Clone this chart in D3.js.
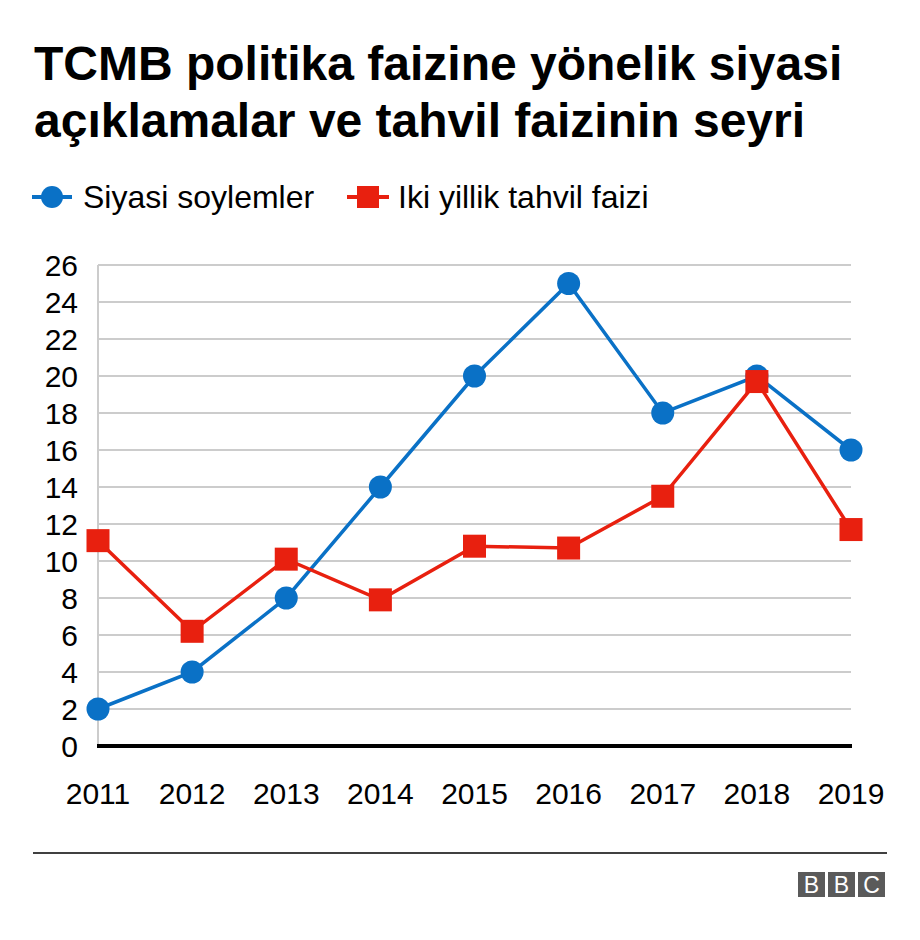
<!DOCTYPE html>
<html>
<head>
<meta charset="utf-8">
<script src="https://cdn.jsdelivr.net/npm/d3@7"></script>
<style>
  body { margin: 0; background: #fff; font-family: "Liberation Sans", Arial, sans-serif; }
</style>
</head>
<body>
<div id="chart"></div>
<script>
const years = [2011, 2012, 2013, 2014, 2015, 2016, 2017, 2018, 2019];
const siyasi = [2, 4, 8, 14, 20, 25, 18, 20, 16];
const tahvil = [11.1, 6.2, 10.1, 7.9, 10.8, 10.7, 13.5, 19.7, 11.7];
const yTicks = [0, 2, 4, 6, 8, 10, 12, 14, 16, 18, 20, 22, 24, 26];

const blue = '#0a71c6';
const red = '#e8200f';

const width = 920, height = 940;
const svg = d3.select('#chart').append('svg')
  .attr('width', width)
  .attr('height', height);

// title
svg.append('text')
  .attr('x', 34).attr('y', 80)
  .style('font-size', '48px').style('font-weight', 'bold')
  .text('TCMB politika faizine yönelik siyasi');
svg.append('text')
  .attr('x', 34).attr('y', 137)
  .style('font-size', '48px').style('font-weight', 'bold')
  .text('açıklamalar ve tahvil faizinin seyri');

// legend
const leg = svg.append('g').attr('transform', 'translate(0,197)');
leg.append('line').attr('x1', 32).attr('x2', 72).attr('stroke', blue).attr('stroke-width', 4);
leg.append('circle').attr('cx', 52).attr('r', 11).attr('fill', blue);
leg.append('text').attr('x', 83).attr('y', 11).style('font-size', '32px').text('Siyasi soylemler');
leg.append('line').attr('x1', 347).attr('x2', 389).attr('stroke', red).attr('stroke-width', 4);
leg.append('rect').attr('x', 357).attr('y', -11).attr('width', 22).attr('height', 22).attr('fill', red);
leg.append('text').attr('x', 398).attr('y', 11).style('font-size', '32px').text('Iki yillik tahvil faizi');

const x = d3.scalePoint().domain(years).range([98, 851]);
const y = d3.scaleLinear().domain([0, 26]).range([746, 265]);

// grid
svg.append('g')
  .selectAll('line')
  .data(yTicks.filter(d => d > 0))
  .enter().append('line')
    .attr('x1', 98).attr('x2', 851)
    .attr('y1', d => y(d)).attr('y2', d => y(d))
    .attr('stroke', '#cccccc').attr('stroke-width', 2);

svg.append('line')
  .attr('x1', 98).attr('x2', 98)
  .attr('y1', y(26)).attr('y2', y(0))
  .attr('stroke', '#cccccc').attr('stroke-width', 2);

// y axis labels
svg.append('g')
  .selectAll('text')
  .data(yTicks)
  .enter().append('text')
    .attr('x', 78).attr('y', d => y(d) + 11)
    .attr('text-anchor', 'end')
    .style('font-size', '30px')
    .text(d => d);

// x axis labels
svg.append('g')
  .selectAll('text')
  .data(years)
  .enter().append('text')
    .attr('x', d => x(d)).attr('y', 804)
    .attr('text-anchor', 'middle')
    .style('font-size', '30px')
    .text(d => d);

// baseline
svg.append('line')
  .attr('x1', 97).attr('x2', 852)
  .attr('y1', y(0)).attr('y2', y(0))
  .attr('stroke', '#000').attr('stroke-width', 4);

const line = d3.line().x(d => x(d[0])).y(d => y(d[1]));

// blue series
const bData = years.map((yr, i) => [yr, siyasi[i]]);
svg.append('path').datum(bData)
  .attr('d', line).attr('fill', 'none')
  .attr('stroke', blue).attr('stroke-width', 3.5);
svg.append('g').selectAll('circle')
  .data(bData).enter().append('circle')
    .attr('cx', d => x(d[0])).attr('cy', d => y(d[1]))
    .attr('r', 11.5).attr('fill', blue);

// red series
const rData = years.map((yr, i) => [yr, tahvil[i]]);
svg.append('path').datum(rData)
  .attr('d', line).attr('fill', 'none')
  .attr('stroke', red).attr('stroke-width', 3.5);
svg.append('g').selectAll('rect')
  .data(rData).enter().append('rect')
    .attr('x', d => x(d[0]) - 11.5).attr('y', d => y(d[1]) - 11.5)
    .attr('width', 23).attr('height', 23)
    .attr('fill', red);

// footer
svg.append('line')
  .attr('x1', 33).attr('x2', 887)
  .attr('y1', 853).attr('y2', 853)
  .attr('stroke', '#000').attr('stroke-width', 1.5);

const logo = svg.append('g').attr('transform', 'translate(798,872)');
['B', 'B', 'C'].forEach((ch, i) => {
  logo.append('rect')
    .attr('x', i * 30).attr('y', 0)
    .attr('width', 27).attr('height', 25)
    .attr('fill', '#5a5a5a');
  logo.append('text')
    .attr('x', i * 30 + 13.5).attr('y', 21)
    .attr('text-anchor', 'middle')
    .attr('fill', '#fff')
    .style('font-size', '23px')
    .text(ch);
});
</script>
</body>
</html>
